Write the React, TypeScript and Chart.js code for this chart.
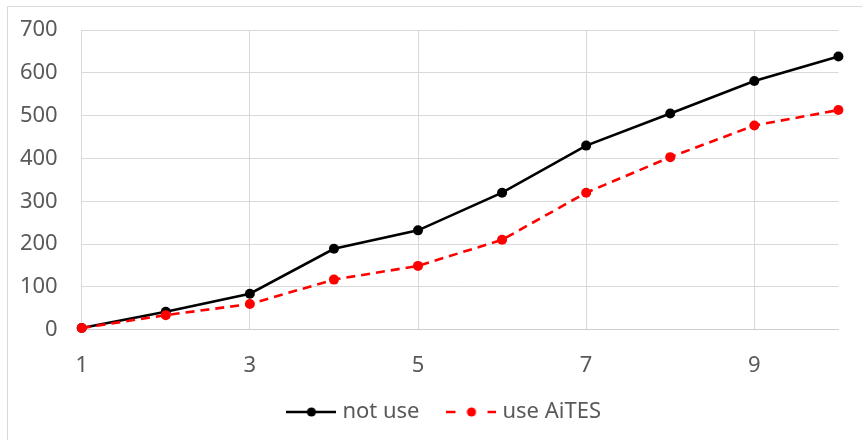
import { useEffect, useRef } from "react";
import { Chart, registerables } from "chart.js";

Chart.register(...registerables);

const xValues = [1, 2, 3, 4, 5, 6, 7, 8, 9, 10];
const notUse = [4, 42, 84, 189, 232, 320, 430, 505, 581, 638];
const useAiTES = [4, 34, 60, 117, 149, 210, 320, 403, 477, 513];
const xTickValues = [1, 3, 5, 7, 9];
const seriesNames = ["not use", "use AiTES"];
const seriesColors = ["#000000", "#ff0000"];

function legendImage(color: string, dashed: boolean): HTMLCanvasElement {
  const c = document.createElement("canvas");
  c.width = 50;
  c.height = 12;
  const ctx = c.getContext("2d")!;
  ctx.strokeStyle = color;
  ctx.lineWidth = 2.7;
  ctx.beginPath();
  if (dashed) {
    ctx.moveTo(0, 6);
    ctx.lineTo(9, 6);
    ctx.moveTo(41, 6);
    ctx.lineTo(50, 6);
  } else {
    ctx.moveTo(0, 6);
    ctx.lineTo(50, 6);
  }
  ctx.stroke();
  ctx.fillStyle = color;
  ctx.beginPath();
  ctx.arc(25, 6, 4.6, 0, Math.PI * 2);
  ctx.fill();
  return c;
}

const layoutTweak = {
  id: "layoutTweak",
  afterLayout(chart: any) {
    if (chart.legend) {
      chart.legend.left = 54;
    }
    const xs = chart.scales && chart.scales.x;
    if (xs) {
      xs.bottom = xs.top + 70;
      xs.height = 70;
    }
  },
};

export default function App() {
  const ref = useRef<HTMLCanvasElement | null>(null);

  useEffect(() => {
    if (!ref.current) return;
    const imgs = [legendImage(seriesColors[0], false), legendImage(seriesColors[1], true)];
    const chart = new Chart(ref.current, {
      type: "line",
      data: {
        datasets: [
          {
            label: seriesNames[0],
            data: xValues.map((x, i) => ({ x, y: notUse[i] })),
            borderColor: seriesColors[0],
            backgroundColor: seriesColors[0],
            borderWidth: 2.6,
            pointRadius: 5,
            pointBorderWidth: 0,
            tension: 0,
            clip: false as any,
            order: 2,
          },
          {
            label: seriesNames[1],
            data: xValues.map((x, i) => ({ x, y: useAiTES[i] })),
            borderColor: seriesColors[1],
            backgroundColor: seriesColors[1],
            borderWidth: 2.6,
            borderDash: [9, 6],
            pointRadius: 5,
            pointBorderWidth: 0,
            tension: 0,
            clip: false as any,
            order: 1,
          },
        ],
      },
      options: {
        animation: false,
        responsive: false,
        maintainAspectRatio: false,
        layout: { padding: { left: 0, right: 23.6, top: 30, bottom: 7 } },
        font: { family: "'Noto Sans', sans-serif", size: 22 },
        scales: {
          x: {
            type: "linear",
            min: 1,
            max: 10,
            afterBuildTicks: (scale: any) => {
              scale.ticks = xTickValues.map((v) => ({ value: v }));
            },
            afterFit: (scale: any) => {
              scale.height = 39.3;
            },
            grid: { color: "#d9d9d9", lineWidth: 1, drawTicks: false },
            border: { display: true, color: "#cfcfcf", width: 1 },
            ticks: {
              color: "#595959",
              font: { family: "'Noto Sans', sans-serif", size: 22 },
              padding: 23,
              maxRotation: 0,
              autoSkip: false,
            },
          },
          y: {
            min: 0,
            max: 700,
            afterFit: (scale: any) => {
              scale.width = 81.7;
              scale.paddingTop = 10;
              scale.paddingBottom = 10;
            },
            grid: { color: "#d9d9d9", lineWidth: 1, drawTicks: false },
            border: { display: false },
            ticks: {
              stepSize: 100,
              color: "#595959",
              font: { family: "'Noto Sans', sans-serif", size: 22 },
              padding: 24,
            },
          },
        },
        plugins: {
          tooltip: { enabled: false },
          legend: {
            position: "bottom",
            labels: {
              usePointStyle: true,
              pointStyleWidth: 40,
              padding: 32,
              color: "#595959",
              font: { family: "'Noto Sans', sans-serif", size: 22 },
              generateLabels: () =>
                seriesNames.map((name, i) => ({
                  text: name,
                  pointStyle: imgs[i] as any,
                  fillStyle: seriesColors[i],
                  strokeStyle: seriesColors[i],
                  lineWidth: 0,
                  hidden: false,
                  datasetIndex: i,
                  fontColor: "#595959",
                })),
            },
          },
        },
      } as any,
      plugins: [layoutTweak],
    });
    return () => chart.destroy();
  }, []);

  return (
    <div style={{ position: "fixed", left: 0, top: 0, width: 862, height: 440, overflow: "hidden", background: "#ffffff" }}>
      <div
        style={{
          position: "absolute",
          left: 7,
          top: 6,
          width: 900,
          height: 500,
          border: "1px solid #d9d9d9",
        }}
      />
      <canvas ref={ref} width={862} height={440} style={{ position: "absolute", left: 0, top: 0, width: 862, height: 440 }} />
    </div>
  );
}
